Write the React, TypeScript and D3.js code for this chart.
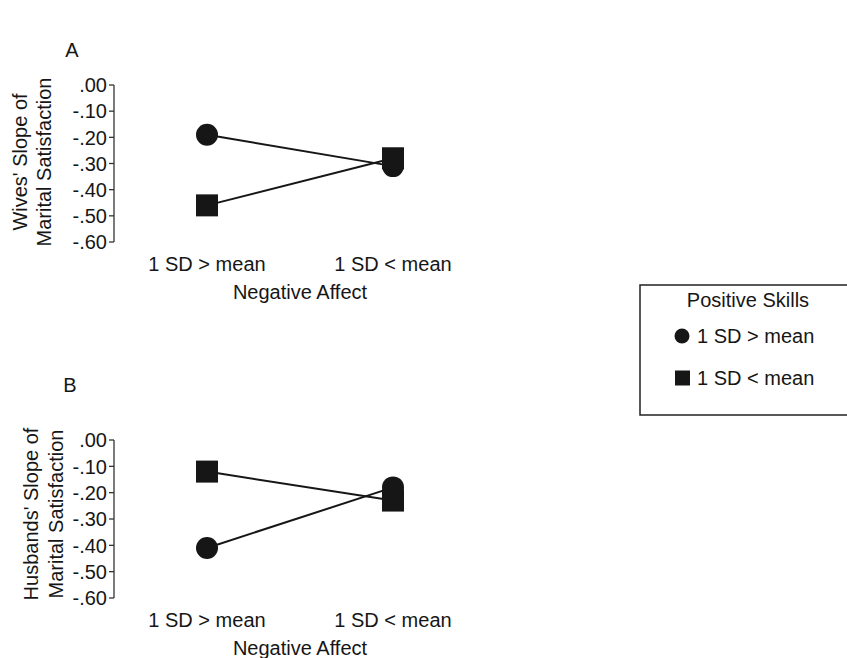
import React from "react";
import * as d3 from "d3";

const categories = ["1 SD > mean", "1 SD < mean"];
const yTicks = [0, -0.1, -0.2, -0.3, -0.4, -0.5, -0.6];
const yTickLabels = [".00", "-.10", "-.20", "-.30", "-.40", "-.50", "-.60"];

// Positive skills 1 SD > mean (circles) / 1 SD < mean (squares)
const wivesHigh = [-0.19, -0.31];
const wivesLow = [-0.46, -0.28];
const husbandsHigh = [-0.41, -0.18];
const husbandsLow = [-0.12, -0.23];

const W = 847;
const H = 658;
const FONT = "'Liberation Sans', Arial, Helvetica, sans-serif";
const INK = "#161616";
const FS = 20;

interface PanelProps {
  letter: string;
  letterX: number;
  letterY: number;
  top: number;
  bottom: number;
  yLabel: [string, string];
  labelX: [number, number];
  labelY: number;
  high: number[];
  low: number[];
}

const x = d3.scalePoint<string>().domain(categories).range([207, 393]);
const AXIS_X = 114;
const R = 11;
const SQ = 22;

const Panel = (p: PanelProps) => {
  const y = d3.scaleLinear().domain([-0.6, 0]).range([p.bottom, p.top]);
  const line = d3
    .line<number>()
    .x((_, i) => x(categories[i]) as number)
    .y((d) => y(d));

  return (
    <g fontFamily={FONT} fill={INK} fontSize={FS}>
      <text x={p.letterX} y={p.letterY} dy="0.35em" textAnchor="middle">
        {p.letter}
      </text>
      {p.yLabel.map((t, i) => (
        <text
          key={t}
          transform={`translate(${p.labelX[i]},${p.labelY}) rotate(-90)`}
          textAnchor="middle"
          dy="0.35em"
        >
          {t}
        </text>
      ))}
      <line x1={AXIS_X} x2={AXIS_X} y1={p.top} y2={p.bottom} stroke="#333" strokeWidth={1.3} />
      {yTicks.map((t, i) => (
        <g key={t}>
          <line x1={AXIS_X - 5} x2={AXIS_X} y1={y(t)} y2={y(t)} stroke="#333" strokeWidth={1.3} />
          <text x={AXIS_X - 7} y={y(t)} dy="0.36em" textAnchor="end">
            {yTickLabels[i]}
          </text>
        </g>
      ))}
      <path d={line(p.high) || ""} fill="none" stroke={INK} strokeWidth={2} />
      <path d={line(p.low) || ""} fill="none" stroke={INK} strokeWidth={2} />
      {p.high.map((v, i) => (
        <circle key={`c${i}`} cx={x(categories[i])} cy={y(v)} r={R} fill={INK} />
      ))}
      {p.low.map((v, i) => (
        <rect
          key={`s${i}`}
          x={(x(categories[i]) as number) - SQ / 2}
          y={y(v) - SQ / 2}
          width={SQ}
          height={SQ}
          fill={INK}
        />
      ))}
      {categories.map((c) => (
        <text key={c} x={x(c)} y={p.bottom + 29} textAnchor="middle">
          {c}
        </text>
      ))}
      <text
        x={(x(categories[0])! + x(categories[1])!) / 2}
        y={p.bottom + 57}
        textAnchor="middle"
      >
        Negative Affect
      </text>
    </g>
  );
};

const legendItems = ["1 SD > mean", "1 SD < mean"];

export default function App() {
  return (
    <svg
      width={W}
      height={H}
      style={{ position: "absolute", left: 0, top: 0, background: "#fff" }}
    >
      <Panel
        letter="A"
        letterX={72}
        letterY={50}
        top={85}
        bottom={242}
        yLabel={["Wives' Slope of", "Marital Satisfaction"]}
        labelX={[20, 44]}
        labelY={162}
        high={wivesHigh}
        low={wivesLow}
      />
      <Panel
        letter="B"
        letterX={70}
        letterY={385}
        top={440}
        bottom={598}
        yLabel={["Husbands' Slope of", "Marital Satisfaction"]}
        labelX={[31, 56]}
        labelY={514}
        high={husbandsHigh}
        low={husbandsLow}
      />
      <g fontFamily={FONT} fill={INK} fontSize={FS}>
        <rect x={640} y={285} width={230} height={130} fill="none" stroke="#222" strokeWidth={1.5} />
        <text x={748} y={307} textAnchor="middle">
          Positive Skills
        </text>
        {legendItems.map((t, i) => (
          <g key={t} transform={`translate(0,${336 + i * 42})`}>
            {i === 0 ? (
              <circle cx={682} cy={0} r={7.5} />
            ) : (
              <rect x={675} y={-7.5} width={15} height={15} />
            )}
            <text x={697} y={0} dy="0.36em">
              {t}
            </text>
          </g>
        ))}
      </g>
    </svg>
  );
}
